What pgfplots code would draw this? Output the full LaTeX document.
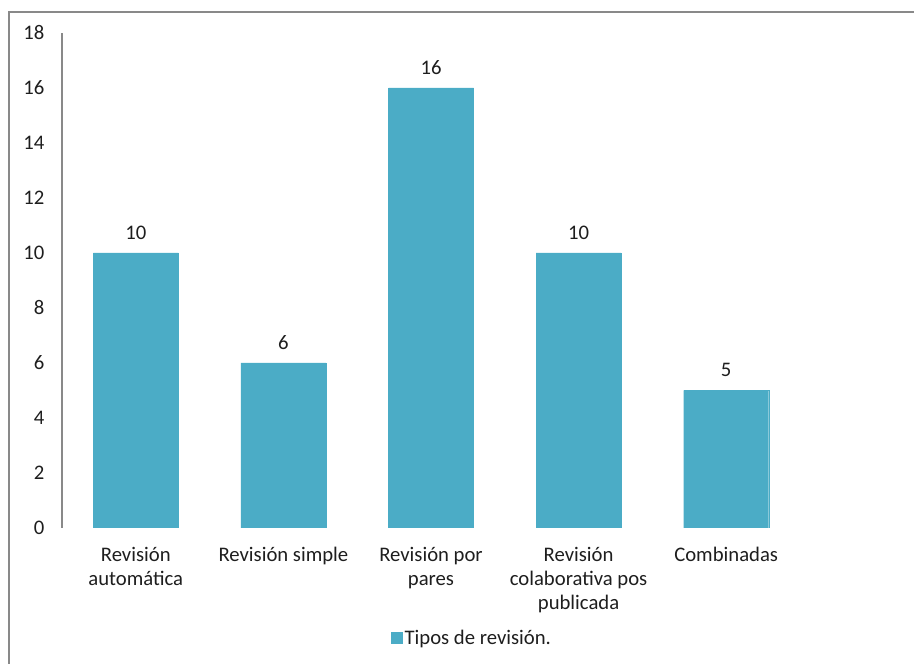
\documentclass[border=0pt]{standalone}
\usepackage{fontspec}
\setmainfont{Carlito}
\usepackage{pgfplots}
\pgfplotsset{compat=1.18}
\definecolor{bblue}{RGB}{75,172,198}
\definecolor{framegray}{RGB}{137,137,137}
\definecolor{txt}{RGB}{30,30,30}

\begin{document}
\begin{tikzpicture}
\useasboundingbox (0,0) rectangle (914pt,664pt);
% outer chart frame (only top and left edges are visible)
\draw[framegray, line width=2pt] (915pt,652pt) -- (9pt,652pt) -- (9pt,-2pt);
\begin{axis}[
at={(62pt,136pt)}, anchor=south west,
scale only axis,
width=738pt, height=495pt,
xmin=-0.5, xmax=4.5,
ymin=0, ymax=18,
ytick={0,2,...,18},
xtick=data,
xticklabels={Revisión\\automática,Revisión simple,Revisión por\\pares,Revisión\\colaborativa pos\\publicada,Combinadas},
axis lines*=left,
x axis line style={draw=none},
y axis line style={draw=framegray, line width=1.2pt, -},
major tick style={draw=none},
ybar, bar width=85pt,
font=\fontsize{20.7}{24}\selectfont,
/pgf/number format/assume math mode=true,
tick label style={text=txt},
yticklabel style={anchor=east, xshift=-14pt},
xticklabel style={align=center, anchor=north, yshift=-11pt},
nodes near coords,
nodes near coords style={text=txt, font=\fontsize{20.7}{24}\selectfont, yshift=10pt},
legend style={at={(0.4458,-0.2222)}, anchor=west, draw=none, fill=none,
  inner sep=0pt, font=\fontsize{20.7}{24}\selectfont, text=txt},
legend image code/.code={\fill[bblue] (0pt,-5.5pt) rectangle (11pt,5.5pt);},
]
\addplot[fill=bblue, draw=bblue] coordinates {(0,10) (1,6) (2,16) (3,10) (4,5)};
\legend{Tipos de revisión.}
\end{axis}
\end{tikzpicture}
\end{document}
